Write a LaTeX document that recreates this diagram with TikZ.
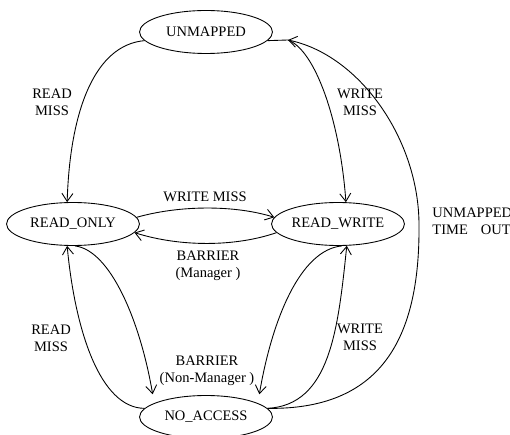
\documentclass[tikz,border=0pt]{standalone}
\usepackage{fontspec}
\setmainfont{Liberation Serif}
\usetikzlibrary{shapes.geometric,arrows.meta}

\begin{document}
\begin{tikzpicture}[x=0.02cm,y=-0.02cm,line width=0.5pt,
    every node/.style={font=\fontsize{8.25pt}{9.7pt}\selectfont},
    state/.style={draw, ellipse, inner sep=0pt, minimum width=2.66cm, minimum height=0.86cm},
    lbl/.style={align=center, inner sep=0pt},
    trans/.style={-{Straight Barb[length=0.16cm,width=0.22cm]}}]
    \useasboundingbox (0,0) rectangle (510,435);
    % states
    \node[state] (unmapped) at (206,32) {UNMAPPED};
    \node[state] (readonly) at (73,224) {READ\_ONLY};
    \node[state] (readwrite) at (338,224) {READ\_WRITE};
    \node[state] (noaccess) at (206,417) {NO\_ACCESS};
    \coordinate (tojoin) at (288,40);
    \coordinate (tobend) at (419,225);
    % transitions
    \draw[trans] (unmapped.188) .. controls (95,45) and (70,110) .. (readonly.105);
    \draw[trans] (unmapped.-8) -- (tojoin) .. controls (315,50) and (340,120) .. (readwrite.70);
    \draw[trans] (readonly.6) .. controls (180,205) and (235,205) .. (readwrite.174);
    \draw[trans] (readwrite.-172) .. controls (235,247) and (180,247) .. (readonly.-8);
    \draw[trans] (noaccess.172) .. controls (100,408) and (75,330) .. (readonly.-105);
    \draw[trans, shorten >=0.18cm] (readonly.-85) .. controls (110,250) and (140,320) .. (noaccess.165);
    \draw[trans, shorten >=0.18cm] (readwrite.-80) .. controls (300,250) and (272,320) .. (noaccess.15);
    \draw[trans] (noaccess.8) .. controls (330,405) and (338,330) .. (readwrite.-68);
    \draw[trans] (noaccess.8) .. controls (380,410) and (420,340) .. (tobend) .. controls (419,140) and (360,55) .. (tojoin);
    % labels
    \node[lbl] (rmtop) at (52,102) {READ\\MISS};
    \node[lbl] (wmtop) at (360,102) {WRITE\\MISS};
    \node[lbl] (wmmid) at (205,197) {WRITE MISS};
    \node[lbl] (barmgr) at (208,266) {BARRIER\\(Manager )};
    \node[lbl] (barnon) at (207,371) {BARRIER\\(Non-Manager )};
    \node[lbl] (rmlow) at (51,338) {READ\\MISS};
    \node[lbl] (wmlow) at (360,337) {WRITE\\MISS};
    \node[lbl, align=left, anchor=west] (timeout) at (432,221) {UNMAPPED\\TIME\hspace{0.65em} OUT};
\end{tikzpicture}
\end{document}
